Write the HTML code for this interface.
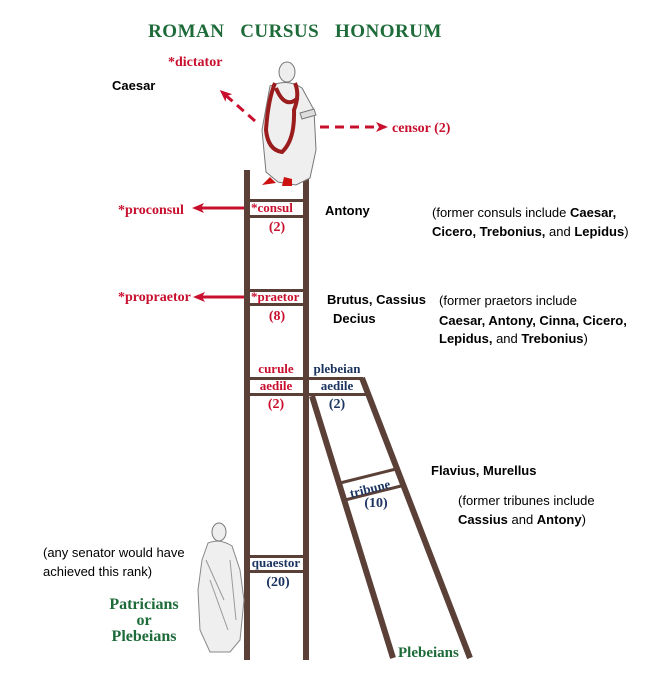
<!DOCTYPE html>
<html><head><meta charset="utf-8"><style>
html,body{margin:0;padding:0;background:#fff;}
svg{display:block;}
.s{font-family:"Liberation Serif",serif;font-weight:bold;}
.c{font-family:"Liberation Sans",sans-serif;font-size:13px;fill:#000;}
.r{fill:#c8102e;}
.b{fill:#1b3560;}
.g{fill:#1e6b3a;}
</style></head><body>
<svg width="652" height="681" viewBox="0 0 652 681" xmlns="http://www.w3.org/2000/svg">
<defs>
<marker id="ah" markerWidth="12" markerHeight="10" refX="9" refY="5" orient="auto" markerUnits="userSpaceOnUse"><path d="M0,0 L12,5 L0,10 L3,5 Z" fill="#c8102e"/></marker>
</defs>
<text class="s g" x="295" y="37" font-size="19" text-anchor="middle" letter-spacing="0.5">ROMAN&#160;&#160;&#160;CURSUS&#160;&#160;&#160;HONORUM</text>

<g fill="#5b4038">
<rect x="244" y="170" width="6" height="490"/>
<rect x="303" y="170" width="6" height="490"/>
<rect x="250" y="199" width="53" height="3"/>
<rect x="250" y="215" width="53" height="3"/>
<rect x="250" y="289" width="53" height="3"/>
<rect x="250" y="303" width="53" height="3"/>
<rect x="250" y="377" width="113" height="3"/>
<rect x="250" y="393" width="53" height="3"/>
<rect x="309" y="393" width="60" height="3"/>
<rect x="250" y="555" width="53" height="3"/>
<rect x="250" y="570" width="53" height="3"/>
</g>
<g stroke="#5b4038" stroke-width="6" fill="none">
<line x1="312" y1="396" x2="393" y2="658"/>
<line x1="362" y1="378" x2="470" y2="658"/>
<line x1="340" y1="483" x2="396" y2="469" stroke-width="3"/>
<line x1="345" y1="500" x2="401" y2="486" stroke-width="3"/>
</g>

<g>
<ellipse cx="287" cy="72" rx="8" ry="10" fill="#eee" stroke="#777"/>
<path d="M270,86 Q288,78 302,88 L314,110 L316,150 L310,178 L296,185 L278,182 L266,172 L262,130 Z" fill="#efefef" stroke="#777"/>
<path d="M275,83 Q268,100 266,130 Q268,150 282,152 Q295,140 294,110 Q300,95 295,83" fill="none" stroke="#9b1c1c" stroke-width="4"/>
<path d="M276,88 Q285,110 298,98" fill="none" stroke="#9b1c1c" stroke-width="4"/>
<path d="M262,185 l8,-8 l6,6 Z M282,186 l2,-9 l8,2 l0,7 Z" fill="#cc1111"/>
<path d="M300,113 l14,-4 l2,6 l-14,4 Z" fill="#ddd" stroke="#777"/>
</g>
<g>
<ellipse cx="219" cy="532" rx="7" ry="9" fill="#eee" stroke="#777"/>
<path d="M208,543 Q220,538 232,546 L240,570 L244,600 L240,640 L230,652 L210,652 L200,630 L198,590 L202,560 Z" fill="#efefef" stroke="#888"/>
<path d="M206,560 L224,600 M210,580 L228,630 M230,560 L236,620" stroke="#999" fill="none"/>
</g>

<g stroke="#c8102e" stroke-width="3" fill="none">
<line x1="255" y1="121" x2="222" y2="92" stroke-dasharray="9,6" marker-end="url(#ah)"/>
<line x1="320" y1="127" x2="385" y2="127" stroke-dasharray="9,6" marker-end="url(#ah)"/>
<line x1="244" y1="208" x2="195" y2="208" marker-end="url(#ah)"/>
<line x1="244" y1="297" x2="196" y2="297" marker-end="url(#ah)"/>
</g>

<text class="s r" x="168" y="66" font-size="14">*dictator</text>
<text class="c" x="112" y="90" font-weight="bold">Caesar</text>
<text class="s r" x="392" y="132" font-size="14">censor (2)</text>
<text class="s r" x="118" y="214" font-size="14">*proconsul</text>
<text class="s r" x="118" y="301" font-size="14">*propraetor</text>
<text class="s r" x="251" y="212" font-size="13">*consul</text>
<text class="s r" x="277" y="231" font-size="14" text-anchor="middle">(2)</text>
<text class="s r" x="251" y="301" font-size="13">*praetor</text>
<text class="s r" x="277" y="320" font-size="14" text-anchor="middle">(8)</text>
<text class="s r" x="276" y="373" font-size="13" text-anchor="middle">curule</text>
<text class="s r" x="276" y="390" font-size="13" text-anchor="middle">aedile</text>
<text class="s r" x="276" y="408" font-size="14" text-anchor="middle">(2)</text>
<text class="s b" x="337" y="373" font-size="13" text-anchor="middle">plebeian</text>
<text class="s b" x="337" y="390" font-size="13" text-anchor="middle">aedile</text>
<text class="s b" x="337" y="408" font-size="14" text-anchor="middle">(2)</text>
<text class="s b" x="370" y="493" font-size="13" text-anchor="middle" transform="rotate(-14 370 489)">tribune</text>
<text class="s b" x="376" y="507" font-size="14" text-anchor="middle">(10)</text>
<text class="s b" x="276" y="567" font-size="13" text-anchor="middle">quaestor</text>
<text class="s b" x="278" y="586" font-size="14" text-anchor="middle">(20)</text>
<text class="s g" x="398" y="657" font-size="15">Plebeians</text>
<text class="s g" x="144" y="609" font-size="16" text-anchor="middle">Patricians</text>
<text class="s g" x="144" y="625" font-size="16" text-anchor="middle">or</text>
<text class="s g" x="144" y="641" font-size="16" text-anchor="middle">Plebeians</text>

<text class="c" x="325" y="215" font-weight="bold">Antony</text>
<text class="c" x="432" y="217">(former consuls include <tspan font-weight="bold">Caesar,</tspan></text>
<text class="c" x="432" y="236"><tspan font-weight="bold">Cicero, Trebonius,</tspan> and <tspan font-weight="bold">Lepidus</tspan>)</text>
<text class="c" x="327" y="304" font-weight="bold">Brutus, Cassius</text>
<text class="c" x="333" y="323" font-weight="bold">Decius</text>
<text class="c" x="439" y="305">(former praetors include</text>
<text class="c" x="439" y="325" font-weight="bold">Caesar, Antony, Cinna, Cicero,</text>
<text class="c" x="439" y="343"><tspan font-weight="bold">Lepidus,</tspan> and <tspan font-weight="bold">Trebonius</tspan>)</text>
<text class="c" x="431" y="475" font-weight="bold">Flavius, Murellus</text>
<text class="c" x="458" y="505">(former tribunes include</text>
<text class="c" x="458" y="524"><tspan font-weight="bold">Cassius</tspan> and <tspan font-weight="bold">Antony</tspan>)</text>
<text class="c" x="43" y="557">(any senator would have</text>
<text class="c" x="43" y="576">achieved this rank)</text>
</svg>
</body></html>
